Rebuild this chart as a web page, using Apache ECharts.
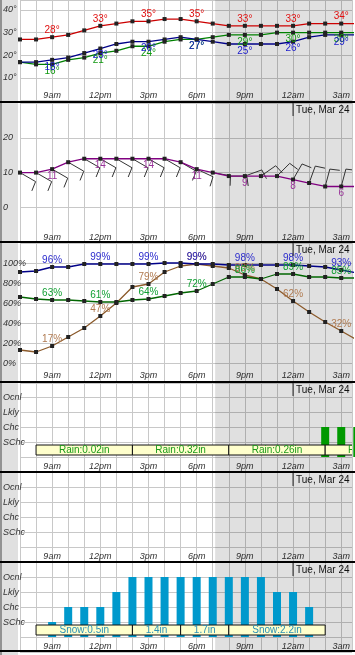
<!DOCTYPE html>
<html><head><meta charset="utf-8">
<script src="https://cdn.jsdelivr.net/npm/echarts@6/dist/echarts.min.js"></script>
<style>html,body{margin:0;padding:0;background:#fff}#c{width:355px;height:655px}</style>
</head><body><div id="c"></div>
<script>
// ---------- data ----------
const hours = ['7am','8am','9am','10am','11am','12pm','1pm','2pm','3pm','4pm','5pm','6pm','7pm','8pm','9pm','10pm','11pm','12am','1am','2am','3am','4am'];
const temperature = [27,27,28,29,31,33,34,35,35,36,36,35,34,33,33,33,33,33,34,34,34,34];
const windChill   = [17,17,18,19,21,23,25,26,26,27,28,27,26,25,25,25,25,26,28,29,29,29];
const dewpoint    = [17,16,16,18,19,21,22,24,24,26,27,27,28,29,29,29,30,30,30,30,30,30];
const windSpeed   = [10,10,11,13,14,14,14,14,14,14,13,11,10,9,9,9,9,8,7,6,6,6];
const windDir     = [120,120,120,120,120,120,120,120,120,120,120,115,100,90,70,55,45,30,20,15,15,15];
const skyCover    = [91,92,96,96,99,99,99,99,99,100,100,99,99,98,98,98,98,98,97,96,93,90];
const humidity    = [66,64,63,63,62,61,61,63,64,67,70,72,79,86,86,84,89,89,86,86,85,85];
const precipPot   = [13,11,17,26,35,47,60,76,79,91,97,99,97,95,88,84,74,62,51,41,32,23];
const rainLevel   = [0,0,0,0,0,0,0,0,0,0,0,0,0,0,0,0,0,0,0,2,2,2];
const thunderLevel= [0,0,0,0,0,0,0,0,0,0,0,0,0,0,0,0,0,0,0,0,0,0];
const snowLevel   = [0,0,1,2,2,2,3,4,4,4,4,4,4,4,4,4,3,3,2,0,0,0];
const rainBoxStart = [1,7,13,19];
const rainBoxEnd   = [7,13,19,25];
const rainBoxText  = ['Rain:0.02in','Rain:0.32in','Rain:0.26in','Rain:0.14in'];
const snowBoxStart = [1,7,10,13];
const snowBoxEnd   = [7,10,13,19];
const snowBoxText  = ['Snow:0.5in','1.4in','1.7in','Snow:2.2in'];
const nightStart = [12.15];
const nightEnd   = [24];
const dayBreakHour = [17];
const dayLabels    = ['Tue, Mar 24'];
const tempTickValues = [10,20,30,40];
const tempTickLabels = ['10°','20°','30°','40°'];
const windTickValues = [0,10,20];
const windTickLabels = ['0','10','20'];
const pctTickValues = [0,20,40,60,80,100];
const pctTickLabels = ['0%','20%','40%','60%','80%','100%'];
const levelTickValues = [1,2,3,4];
const levelTickLabels = ['SChc','Chc','Lkly','Ocnl'];

// ---------- layout ----------
const FONT = '"Liberation Sans", Arial, sans-serif';
const X_MAX = 20.67;
const W = 355;
function fmtFrom(vals, labs){ return v => { const i = vals.indexOf(v); return i >= 0 ? labs[i] : ''; }; }
const panels = [
  {top:0,   height:100.67, min:0,   max:44.4,  interval:10, lm:4.7, fmt:fmtFrom(tempTickValues,tempTickLabels), date:false},
  {top:102, height:140,    min:-10, max:30.35, interval:10, lm:5,   fmt:fmtFrom(windTickValues,windTickLabels), date:true},
  {top:242, height:141,    min:-20, max:121,   interval:20, lm:8,   fmt:fmtFrom(pctTickValues,pctTickLabels), date:true},
  {top:382, height:90,     min:-1,  max:5,     interval:1,  lm:6,   fmt:fmtFrom(levelTickValues,levelTickLabels), date:true},
  {top:472, height:90,     min:-1,  max:5,     interval:1,  lm:6,   fmt:fmtFrom(levelTickValues,levelTickLabels), date:true},
  {top:562, height:90,     min:-1,  max:5,     interval:1,  lm:6,   fmt:fmtFrom(levelTickValues,levelTickLabels), date:true}
];
const separators = [102, 242, 382, 472, 562, 651];

const grids = panels.map(p => ({left:18, right:0, top:p.top, height:p.height}));
const xAxes = panels.map((p,k) => ({
  type:'value', gridIndex:k, min:0, max:X_MAX, interval:1,
  axisLine:{show:false}, axisTick:{show:false},
  splitLine:{show:true, lineStyle:{color:'#c8c8c8', width:1}},
  axisLabel:{inside:true, margin:p.lm, verticalAlign:'middle', fontStyle:'italic', fontSize:9,
    color:'#333', fontFamily:FONT,
    formatter: v => (Number.isInteger(v) && v % 3 === 2 && hours[v]) ? hours[v] : ''}
}));
const yAxes = panels.map((p,k) => ({
  type:'value', gridIndex:k, min:p.min, max:p.max, interval:p.interval,
  axisLine:{show:false}, axisTick:{show:false},
  splitLine:{show:true, lineStyle:{color:'#c8c8c8', width:1}},
  axisLabel:{margin:17, align:'left', fontStyle:'italic', fontSize:9, color:'#333', fontFamily:FONT, formatter:p.fmt}
}));

function lineSeries(k, vals, color, labelColor, pos, suffix) {
  return {type:'line', xAxisIndex:k, yAxisIndex:k, z:3, animation:false,
    data: vals.map((v,i) => [i,v]),
    symbol:'rect', symbolSize:4, showAllSymbol:true,
    itemStyle:{color:'#222'}, lineStyle:{color:color, width:1.3},
    label:{show:true, position:pos, distance:0, color:labelColor, fontSize:10, fontFamily:FONT,
      formatter: p => (p.dataIndex % 3 === 2) ? (p.value[1] + suffix) : ''}
  };
}

const series = [];
// night shading + date markers
panels.forEach((p,k) => {
  series.push({type:'custom', xAxisIndex:k, yAxisIndex:k, z:1, silent:true, clip:true, animation:false,
    data: nightStart.map((s,j) => [s, nightEnd[j]]),
    encode:{x:[0,1]},
    renderItem:(params, api) => {
      const cs = params.coordSys;
      const x1 = api.coord([api.value(0), 0])[0];
      const x2 = api.coord([api.value(1), 0])[0];
      return {type:'rect', shape:{x:x1, y:cs.y, width:x2-x1, height:cs.height}, style:{fill:'rgba(0,0,0,0.12)'}};
    }});
  if (p.date) {
    series.push({type:'custom', xAxisIndex:k, yAxisIndex:k, z:6, silent:true, clip:true, animation:false,
      data: dayBreakHour.map(h => [h]),
      encode:{x:0},
      renderItem:(params, api) => {
        const cs = params.coordSys;
        const x = api.coord([api.value(0), 0])[0];
        return {type:'group', children:[
          {type:'line', shape:{x1:x, y1:cs.y, x2:x, y2:cs.y+14}, style:{stroke:'#222', lineWidth:1}},
          {type:'text', style:{text:dayLabels[params.dataIndex], x:x+3, y:cs.y+8, fill:'#111',
            font:'10px ' + FONT, align:'left', verticalAlign:'middle'}}
        ]};
      }});
  }
});

// panel 1: temperatures
series.push(lineSeries(0, dewpoint, '#008000', '#119911', 'bottom', '°'));
series.push(lineSeries(0, windChill, '#000088', '#1a1acc', 'bottom', '°'));
series.push(lineSeries(0, temperature, '#cc0000', '#e01010', 'top', '°'));

// panel 2: wind barbs + wind speed
series.push({type:'custom', xAxisIndex:1, yAxisIndex:1, z:2, silent:true, clip:true, animation:false,
  data: windSpeed.map((v,i) => [i, v, windDir[i]]),
  encode:{x:0, y:1},
  renderItem:(params, api) => {
    const pt = api.coord([api.value(0), api.value(1)]);
    const th = api.value(2) * Math.PI / 180;
    const L = 18, F = 10;
    const ux = Math.sin(th), uy = -Math.cos(th);
    const ex = pt[0] + L*ux, ey = pt[1] + L*uy;
    const fth = th + 82 * Math.PI / 180;
    const fx = Math.sin(fth), fy = -Math.cos(fth);
    const n = Math.max(1, Math.round(api.value(1) / 10));
    const kids = [{type:'line', shape:{x1:pt[0], y1:pt[1], x2:ex, y2:ey}, style:{stroke:'#333', lineWidth:1}}];
    for (let j = 0; j < n; j++) {
      const bx = ex - j*3*ux, by = ey - j*3*uy;
      kids.push({type:'line', shape:{x1:bx, y1:by, x2:bx + F*fx, y2:by + F*fy}, style:{stroke:'#333', lineWidth:1}});
    }
    return {type:'group', children:kids};
  }});
series.push(lineSeries(1, windSpeed, '#800080', '#993399', 'bottom', ''));

// panel 3: percentages
series.push(lineSeries(2, precipPot, '#8b5a2b', '#b07a50', 'top', '%'));
series.push(lineSeries(2, humidity, '#006600', '#11a033', 'top', '%'));
series.push(lineSeries(2, skyCover, '#000088', '#2a2acc', 'top', '%'));

// panels 4-6: bars
series.push({type:'bar', xAxisIndex:3, yAxisIndex:3, z:2, animation:false, barWidth:8,
  data: rainLevel.map((v,i) => [i,v]), itemStyle:{color:'#009900'}});
series.push({type:'bar', xAxisIndex:4, yAxisIndex:4, z:2, animation:false, barWidth:8,
  data: thunderLevel.map((v,i) => [i,v]), itemStyle:{color:'#cc0000'}});
series.push({type:'bar', xAxisIndex:5, yAxisIndex:5, z:2, animation:false, barWidth:8,
  data: snowLevel.map((v,i) => [i,v]), itemStyle:{color:'#0099cc'}});

function boxSeries(k, starts, ends, texts, color) {
  return {type:'custom', xAxisIndex:k, yAxisIndex:k, z:4, silent:true, clip:true, animation:false,
    data: starts.map((s,j) => [s, ends[j]]),
    encode:{x:[0,1]},
    renderItem:(params, api) => {
      const a = api.coord([api.value(0), 0.8]);
      const b = api.coord([api.value(1), 0.133]);
      return {type:'group', children:[
        {type:'rect', shape:{x:a[0], y:a[1], width:b[0]-a[0], height:b[1]-a[1]},
          style:{fill:'#ffffcc', stroke:'#111', lineWidth:1}},
        {type:'text', style:{text:texts[params.dataIndex], x:(a[0]+b[0])/2, y:(a[1]+b[1])/2+0.5,
          fill:color, font:'10px ' + FONT, align:'center', verticalAlign:'middle'}}
      ]};
    }};
}
series.push(boxSeries(3, rainBoxStart, rainBoxEnd, rainBoxText, '#1a9a1a'));
series.push(boxSeries(5, snowBoxStart, snowBoxEnd, snowBoxText, '#2b8fb5'));

const graphics = [
  {type:'rect', z:-1, silent:true, shape:{x:0, y:0, width:18, height:655}, style:{fill:'#e0e0e0'}},
  {type:'line', z:100, silent:true, shape:{x1:1, y1:0, x2:1, y2:655}, style:{stroke:'#444', lineWidth:1}}
].concat(separators.map(y => ({type:'line', z:100, silent:true,
  shape:{x1:0, y1:y, x2:W, y2:y}, style:{stroke:'#000', lineWidth:2}})));

const chart = echarts.init(document.getElementById('c'), null, {renderer:'canvas', width:355, height:655});
chart.setOption({
  backgroundColor:'#fff',
  animation:false,
  textStyle:{fontFamily:FONT},
  grid: grids, xAxis: xAxes, yAxis: yAxes, series: series, graphic: graphics
});
</script></body></html>
